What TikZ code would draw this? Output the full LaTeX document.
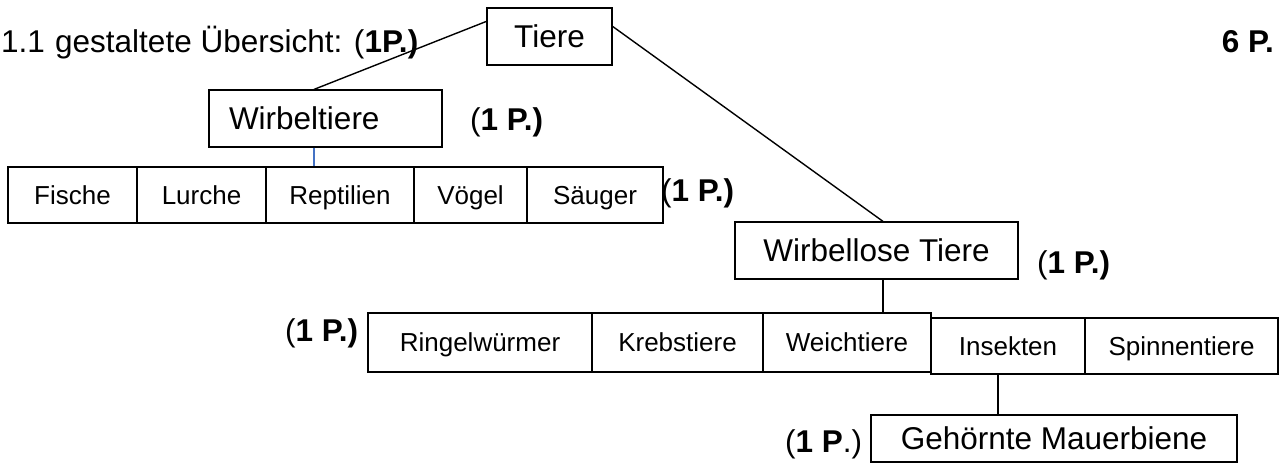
\documentclass[tikz,border=0pt]{standalone}
\usepackage{fontspec}
\setmainfont{Liberation Sans}
\usepackage{tikz}
\usetikzlibrary{calc}
\definecolor{linkblue}{RGB}{68,114,196}
\tikzset{every picture/.append style={x=1pt,y=-1pt}}
\tikzset{bigbox/.style={draw, line width=1.2pt, font=\fontsize{31.5}{36}\selectfont, text height=22.6pt, text depth=0pt, inner sep=0pt, minimum height=57pt}}
\tikzset{rowbox/.style={draw, line width=1.2pt, font=\fontsize{26}{31}\selectfont, text height=18.6pt, text depth=0pt, inner sep=0pt, minimum height=56pt}}
\tikzset{points/.style={font=\fontsize{31.5}{36}\selectfont, inner sep=0pt, anchor=base west}}
\tikzset{edge/.style={line width=1.4pt}}

\begin{document}
\begin{tikzpicture}
  \useasboundingbox (0,0) rectangle (1287,466);

  \node (nummer) at (1,52)[points]{1.1};
  \node (titel) at (55,52)[points]{gestaltete Übersicht: (\textbf{1P.)}};
  \node (gesamt) at (1274,52)[points, anchor=base east]{\textbf{6 P.}};

  \node (tiere) at (549.5,36.5)[bigbox, minimum width=125pt]{Tiere};
  \node (wirbeltiere) at (325.5,118.5)[bigbox, text width=193pt, inner xsep=20pt, align=left]{Wirbeltiere};
  \node (p1) at (470,130)[points]{(\textbf{1 P.)}};

  \node (fische) at (72.5,195)[rowbox, minimum width=129pt]{Fische};
  \node (lurche) at (201.5,195)[rowbox, minimum width=129pt]{Lurche};
  \node (reptilien) at (340,195)[rowbox, minimum width=148pt]{Reptilien};
  \node (voegel) at (470.5,195)[rowbox, minimum width=113pt]{Vögel};
  \node (saeuger) at (595,195)[rowbox, minimum width=136pt]{Säuger};
  \node (p2) at (661,201)[points]{(\textbf{1 P.)}};

  \node (wirbellose) at (876.5,250.5)[bigbox, minimum width=283pt]{Wirbellose Tiere};
  \node (p3) at (1037,273)[points]{(\textbf{1 P.)}};

  \node (p4) at (285,341)[points]{(\textbf{1 P.)}};
  \node (ringel) at (480,342.5)[rowbox, minimum width=224pt, minimum height=59pt]{Ringelwürmer};
  \node (krebs) at (677.5,342.5)[rowbox, minimum width=171pt, minimum height=59pt]{Krebstiere};
  \node (weich) at (847,342.5)[rowbox, minimum width=168pt, minimum height=59pt]{Weichtiere};
  \node (insekten) at (1008,346)[rowbox, minimum width=154pt]{Insekten};
  \node (spinnen) at (1181.5,346)[rowbox, minimum width=193pt]{Spinnentiere};

  \node (biene) at (1054,438.5)[bigbox, minimum width=366pt, minimum height=47pt]{Gehörnte Mauerbiene};
  \node (p5) at (785,452)[points]{(\textbf{1 P}.)};

  \draw[edge] ([yshift=-14pt]tiere.north west) -- ([xshift=-11.5pt]wirbeltiere.north);
  \draw[edge] ([yshift=-19pt]tiere.north east) -- ([xshift=6.5pt]wirbellose.north);
  \draw[edge, linkblue] ($(wirbeltiere.south)+(-11.5,0)$) -- ($(wirbeltiere.south |- reptilien.north)+(-11.5,0)$);
  \draw[edge] ($(wirbellose.south)+(6.5,0)$) -- ($(wirbellose.south |- weich.north)+(6.5,0)$);
  \draw[edge] ($(insekten.south)+(-10,0)$) -- ($(insekten.south |- biene.north)+(-10,0)$);
\end{tikzpicture}
\end{document}
